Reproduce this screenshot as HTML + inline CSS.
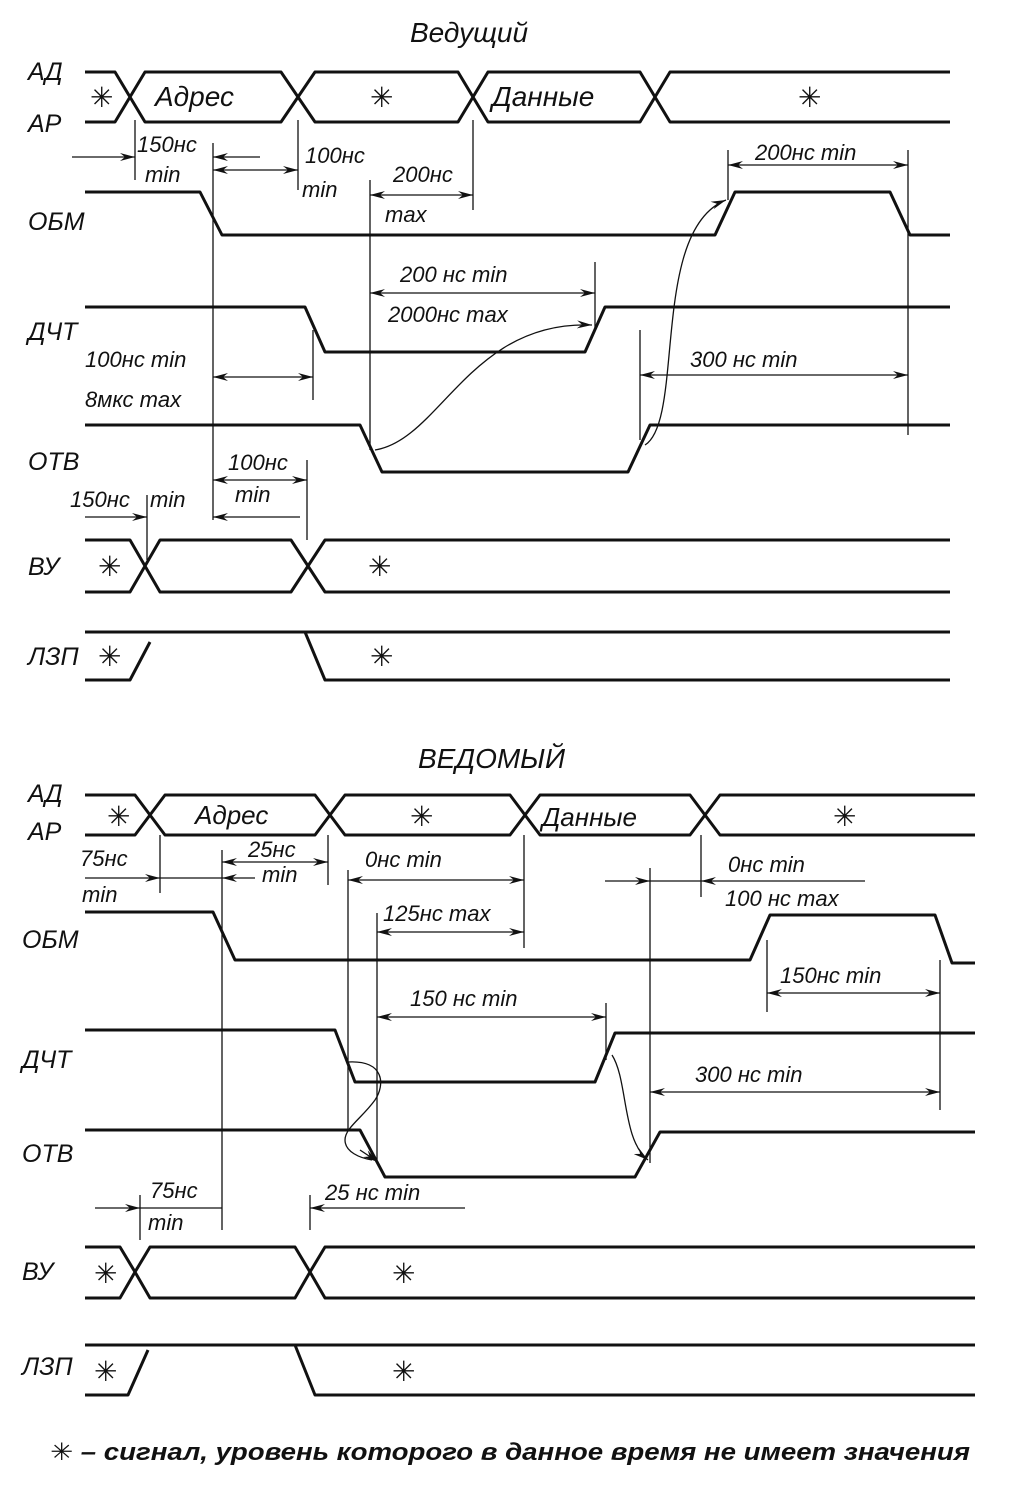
<!DOCTYPE html>
<html><head><meta charset="utf-8"><style>
html,body{margin:0;padding:0;background:#fff}
svg{display:block}
text{font-family:"Liberation Sans","DejaVu Sans",sans-serif;font-style:italic;fill:#111}
.s{fill:none;stroke:#111;stroke-width:3;stroke-linejoin:round}
.t{fill:none;stroke:#111;stroke-width:1.3}
.a{fill:none;stroke:#111;stroke-width:1.3;marker-end:url(#ar)}
.b{fill:none;stroke:#111;stroke-width:1.3;marker-end:url(#ar);marker-start:url(#al)}
.L{font-size:25px}
.n{font-size:22px}
.st{font-size:28px;font-style:normal}
</style></head><body>
<svg width="1024" height="1500" viewBox="0 0 1024 1500" xmlns="http://www.w3.org/2000/svg">
<defs>
<marker id="ar" markerWidth="16" markerHeight="8" refX="15" refY="4" orient="auto" markerUnits="userSpaceOnUse"><path d="M0,0 L15,4 L0,8 L5,4 Z" fill="#111"/></marker>
<marker id="al" markerWidth="16" markerHeight="8" refX="1" refY="4" orient="auto" markerUnits="userSpaceOnUse"><path d="M16,0 L1,4 L16,8 L11,4 Z" fill="#111"/></marker>
</defs>

<text x="410" y="42" font-size="28">Ведущий</text>
<text x="28" y="80" class="L">АД</text>
<text x="28" y="132" class="L">АР</text>
<path class="s" d="M85,72 H115 L130,97 L115,122 H85"/>
<path class="s" d="M130,97 L145,72 H281 L298,97 L281,122 H145 Z"/>
<path class="s" d="M298,97 L315,72 H458 L473,97 L458,122 H315 Z"/>
<path class="s" d="M473,97 L488,72 H640 L655,97 L640,122 H488 Z"/>
<path class="s" d="M950,72 H670 L655,97 L670,122 H950"/>
<text x="90" y="107" class="st">✳</text>
<text x="155" y="106" font-size="28">Адрес</text>
<text x="370" y="107" class="st">✳</text>
<text x="492" y="106" font-size="28">Данные</text>
<text x="798" y="107" class="st">✳</text>

<text x="28" y="230" class="L">ОБМ</text>
<path class="s" d="M85,192 H200 L222,235 H715 L735,192 H890 L910,235 H950"/>
<text x="28" y="340" class="L">ДЧТ</text>
<path class="s" d="M85,307 H305 L325,352 H585 L605,307 H950"/>
<text x="28" y="470" class="L">ОТВ</text>
<path class="s" d="M85,425 H360 L382,472 H628 L650,425 H950"/>
<text x="28" y="575" class="L">ВУ</text>
<path class="s" d="M85,540 H130 L145,566 L130,592 H85"/>
<path class="s" d="M145,566 L160,540 H291 L308,566 L291,592 H160 Z"/>
<path class="s" d="M950,540 H325 L308,566 L325,592 H950"/>
<text x="98" y="576" class="st">✳</text>
<text x="368" y="576" class="st">✳</text>
<text x="28" y="665" class="L">ЛЗП</text>
<path class="s" d="M85,632 H950"/>
<path class="s" d="M85,680 H130 L150,642"/>
<path class="s" d="M305,632 L325,680 H950"/>
<text x="98" y="666" class="st">✳</text>
<text x="370" y="666" class="st">✳</text>

<path class="t" d="M135,120 V180 M213,143 V520 M298,120 V190 M370,180 V450 M473,120 V210 M313,330 V400 M307,460 V540 M147,495 V560 M595,262 V330 M640,330 V440 M728,150 V200 M908,150 V435"/>
<path class="a" d="M72,157 H135"/>
<path class="a" d="M260,157 H213"/>
<text x="137" y="152" class="n">150нс</text>
<text x="145" y="182" class="n">min</text>
<path class="b" d="M213,170 H298"/>
<text x="305" y="163" class="n">100нс</text>
<text x="302" y="197" class="n">min</text>
<path class="b" d="M370,195 H473"/>
<text x="393" y="182" class="n">200нс</text>
<text x="385" y="222" class="n">max</text>
<path class="b" d="M370,293 H595"/>
<text x="400" y="282" class="n">200 нс min</text>
<text x="388" y="322" class="n">2000нс max</text>
<path class="b" d="M213,377 H313"/>
<text x="85" y="367" class="n">100нс min</text>
<text x="85" y="407" class="n">8мкс max</text>
<path class="b" d="M213,480 H307"/>
<text x="228" y="470" class="n">100нс</text>
<text x="235" y="502" class="n">min</text>
<path class="a" d="M85,517 H147"/>
<path class="a" d="M300,517 H213"/>
<text x="70" y="507" class="n">150нс</text>
<text x="150" y="507" class="n">min</text>
<path class="b" d="M728,165 H908"/>
<text x="755" y="160" class="n">200нс min</text>
<path class="b" d="M640,375 H908"/>
<text x="690" y="367" class="n">300 нс min</text>
<path class="a" d="M375,450 C440,440 470,320 592,325"/>
<path class="a" d="M645,445 C685,420 650,230 726,200"/>

<text x="418" y="768" font-size="28">ВЕДОМЫЙ</text>
<text x="28" y="802" class="L">АД</text>
<text x="28" y="840" class="L">АР</text>
<path class="s" d="M85,795 H135 L150,815 L135,835 H85"/>
<path class="s" d="M150,815 L165,795 H315 L330,815 L315,835 H165 Z"/>
<path class="s" d="M330,815 L345,795 H510 L525,815 L510,835 H345 Z"/>
<path class="s" d="M525,815 L540,795 H690 L705,815 L690,835 H540 Z"/>
<path class="s" d="M975,795 H720 L705,815 L720,835 H975"/>
<text x="107" y="826" class="st">✳</text>
<text x="195" y="824" font-size="26">Адрес</text>
<text x="410" y="826" class="st">✳</text>
<text x="542" y="826" font-size="26">Данные</text>
<text x="833" y="826" class="st">✳</text>

<text x="22" y="948" class="L">ОБМ</text>
<path class="s" d="M85,912 H213 L235,960 H750 L770,915 H935 L952,963 H975"/>
<text x="22" y="1068" class="L">ДЧТ</text>
<path class="s" d="M85,1030 H335 L355,1082 H595 L615,1033 H975"/>
<text x="22" y="1162" class="L">ОТВ</text>
<path class="s" d="M85,1130 H360 L385,1177 H635 L660,1132 H975"/>
<text x="22" y="1280" class="L">ВУ</text>
<path class="s" d="M85,1247 H120 L135,1272 L120,1298 H85"/>
<path class="s" d="M135,1272 L150,1247 H295 L310,1272 L295,1298 H150 Z"/>
<path class="s" d="M975,1247 H325 L310,1272 L325,1298 H975"/>
<text x="94" y="1283" class="st">✳</text>
<text x="392" y="1283" class="st">✳</text>
<text x="22" y="1375" class="L">ЛЗП</text>
<path class="s" d="M85,1345 H975"/>
<path class="s" d="M85,1395 H128 L148,1350"/>
<path class="s" d="M295,1345 L315,1395 H975"/>
<text x="94" y="1381" class="st">✳</text>
<text x="392" y="1381" class="st">✳</text>

<path class="t" d="M160,835 V893 M222,850 V1230 M328,835 V885 M348,870 V1130 M377,913 V1160 M524,835 V948 M606,1003 V1060 M650,868 V1163 M701,835 V897 M767,940 V1012 M940,960 V1110 M140,1195 V1240 M310,1195 V1230"/>
<path class="a" d="M85,878 H160"/>
<path class="t" d="M160,878 H222"/>
<path class="a" d="M255,878 H222"/>
<text x="80" y="866" class="n">75нс</text>
<text x="82" y="902" class="n">min</text>
<path class="b" d="M222,862 H328"/>
<text x="248" y="857" class="n">25нс</text>
<text x="262" y="882" class="n">min</text>
<path class="b" d="M348,880 H524"/>
<text x="365" y="867" class="n">0нс min</text>
<path class="a" d="M605,881 H650"/>
<path class="t" d="M650,881 H701"/>
<path class="a" d="M865,881 H701"/>
<text x="728" y="872" class="n">0нс min</text>
<text x="725" y="906" class="n">100 нс max</text>
<path class="b" d="M377,932 H524"/>
<text x="383" y="921" class="n">125нс max</text>
<path class="b" d="M377,1017 H606"/>
<text x="410" y="1006" class="n">150 нс min</text>
<path class="b" d="M767,993 H940"/>
<text x="780" y="983" class="n">150нс min</text>
<path class="b" d="M650,1092 H940"/>
<text x="695" y="1082" class="n">300 нс min</text>
<path class="a" d="M95,1208 H140"/>
<path class="t" d="M140,1208 H222"/>
<path class="a" d="M465,1208 H310"/>
<text x="150" y="1198" class="n">75нс</text>
<text x="148" y="1230" class="n">min</text>
<text x="325" y="1200" class="n">25 нс min</text>
<path class="t" d="M348,1062 C385,1060 385,1085 375,1100 C362,1118 345,1128 345,1140 C345,1152 360,1158 372,1160"/>
<path class="a" d="M360,1150 L378,1162"/>
<path class="a" d="M612,1055 C628,1080 622,1140 648,1160"/>

<text x="50" y="1460" font-size="24" font-weight="bold" textLength="920" lengthAdjust="spacingAndGlyphs">✳ – сигнал, уровень которого в данное время не имеет значения</text>
</svg>
</body></html>
